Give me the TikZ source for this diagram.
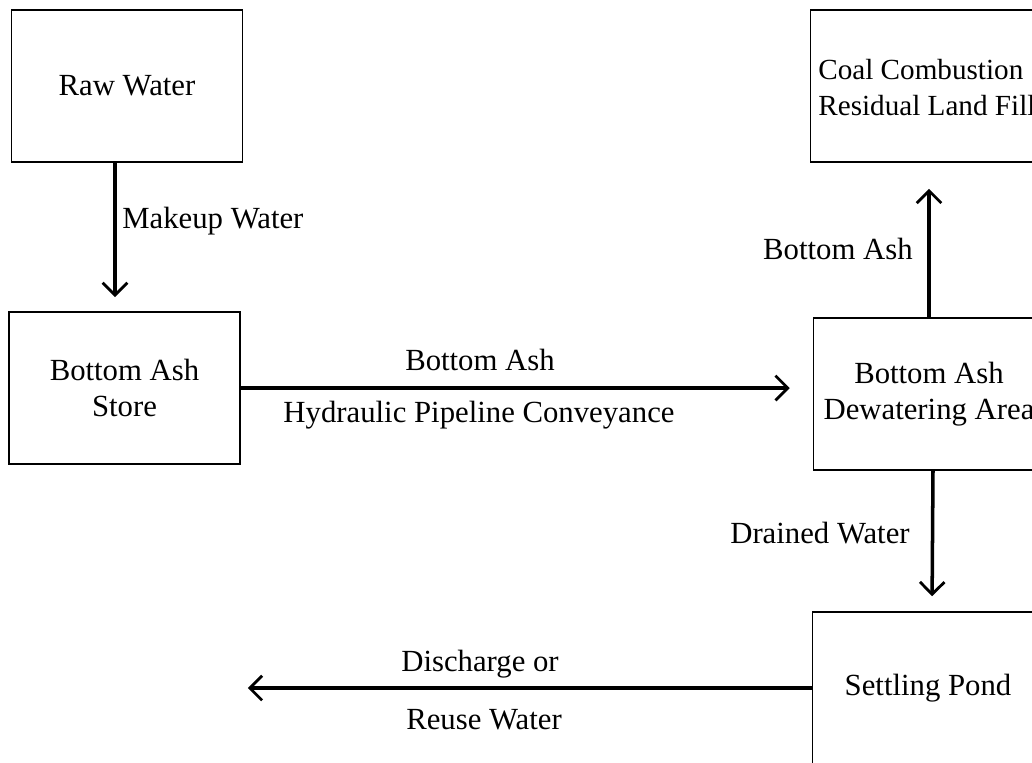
\documentclass[tikz,border=0pt]{standalone}
\usepackage{fontspec}
\setmainfont{Liberation Serif}
\usetikzlibrary{arrows.meta}
\begin{document}
\begin{tikzpicture}[x=0.02cm,y=-0.02cm,
  every node/.style={font=\fontsize{17.5}{20.5}\selectfont, inner sep=0pt},
  blockbox/.style={draw, line width=0.9pt, minimum width=4.62cm, minimum height=3.04cm, align=center},
  flow/.style={line width=2pt, -{Straight Barb[length=7pt,width=14pt,line width=1.6pt]}},
  lbl/.style={text=black}]
  \useasboundingbox (0,0) rectangle (1032,762);
  \clip (0,0) rectangle (1032,762);

  % process blocks
  \node[blockbox] (raw)   at (127,86)  {Raw Water};
  \node[blockbox] (store) at (124.5,388) {Bottom Ash\\Store};
  \node[blockbox] (coal)  at (926,86)  {};
  \node[anchor=west, align=left, font=\fontsize{16.6}{20.5}\selectfont] (coaltxt) at (818,88) {Coal Combustion\\Residual Land Fill};
  \node[blockbox] (dew)   at (929,394) {Bottom Ash\\Dewatering Area};
  \node[blockbox] (pond)  at (928,688) {Settling Pond};

  % connectors
  \coordinate (mk) at (115,297);
  \draw[flow] (raw.south -| mk) -- (mk);
  \draw[flow, shorten >=0.46cm] (store.east) -- (dew.west |- store.east);
  \draw[flow, shorten >=0.52cm] (dew.north) -- (dew.north |- coal.south);
  \draw[flow, shorten >=0.3cm] ([xshift=0.08cm]dew.south) -- ([xshift=0.08cm]pond.north);
  \draw[flow, shorten >=0.14cm] (pond.west) -- (store.east |- pond.west);

  % flow labels
  \node[lbl, anchor=west] (lmk) at (122,221) {Makeup Water};
  \node[lbl] (lba) at (480,360) {Bottom Ash};
  \node[lbl] (lhp) at (479,415) {Hydraulic Pipeline Conveyance};
  \node[lbl, anchor=east] (lup) at (913,249) {Bottom Ash};
  \node[lbl, anchor=east] (ldr) at (910,533) {Drained Water};
  \node[lbl] (ldc) at (480,664) {Discharge or};
  \node[lbl] (lru) at (484,720) {Reuse Water};
\end{tikzpicture}
\end{document}
